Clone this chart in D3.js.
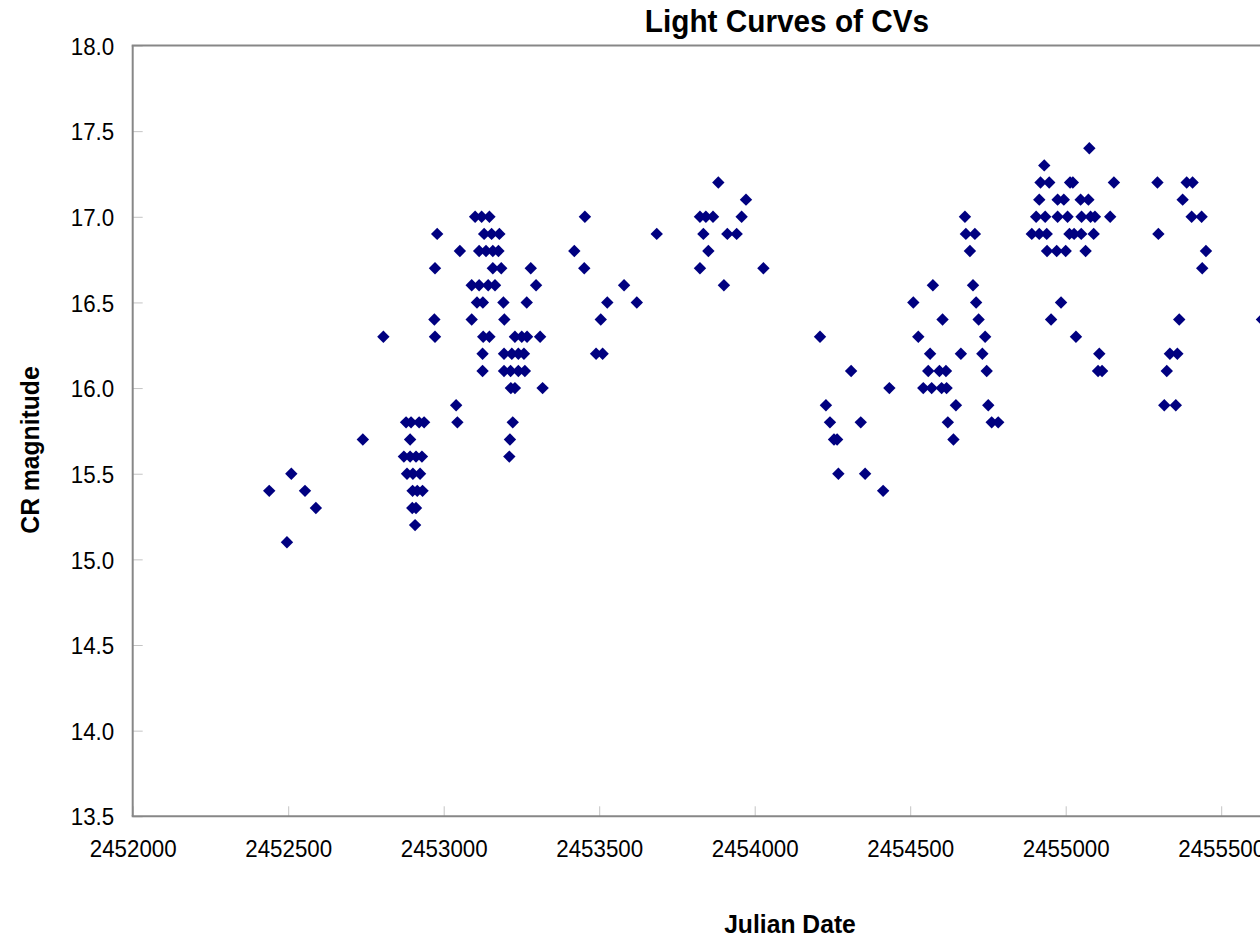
<!DOCTYPE html>
<html>
<head>
<meta charset="utf-8">
<script src="https://cdn.jsdelivr.net/npm/d3@7"></script>
<style>
  html, body { margin: 0; padding: 0; background: #ffffff; }
  svg { display: block; font-family: "Liberation Sans", Arial, Helvetica, sans-serif; }
</style>
</head>
<body>
<svg id="chart" width="1260" height="940"></svg>
<script>
// ---- Data ----
const julianDate = [
  2452439, 2452510, 2452554, 2452589, 2452496, 2452740, 2452806,
  2452879, 2452895, 2452921, 2452937, 2452892,
  2452872, 2452892, 2452911, 2452930,
  2452882, 2452901, 2452924,
  2452900, 2452915, 2452932,
  2452899, 2452911, 2452908,
  2452979, 2452972, 2452970, 2452972, 2453040, 2453044, 2453052,
  2453101, 2453122, 2453147,
  2453130, 2453154, 2453179,
  2453114, 2453136, 2453158, 2453176,
  2453158, 2453185, 2453280,
  2453090, 2453114, 2453143, 2453165, 2453297,
  2453107, 2453126, 2453192, 2453267,
  2453090, 2453195,
  2453127, 2453147, 2453229, 2453251, 2453268, 2453310,
  2453125, 2453194, 2453219, 2453240, 2453258,
  2453125, 2453194, 2453215, 2453240, 2453261,
  2453216, 2453229, 2453318,
  2453222, 2453213, 2453211,
  2453420, 2453454, 2453452, 2453490, 2453511, 2453505, 2453526, 2453580, 2453621, 2453685,
  2453824, 2453843, 2453866, 2453958, 2453883, 2453972, 2453835, 2453912, 2453942, 2453851, 2453824, 2454028, 2453901,
  2454210, 2454229, 2454242, 2454255, 2454265, 2454269, 2454310, 2454341, 2454355, 2454413, 2454433,
  2454510, 2454526, 2454564, 2454558, 2454594, 2454615, 2454542, 2454569, 2454601, 2454617, 2454573, 2454604, 2454621, 2454639, 2454647, 2454663,
  2454676, 2454679, 2454708, 2454692, 2454702, 2454712, 2454720, 2454741, 2454732, 2454746, 2454751, 2454762, 2454783,
  2455076, 2454931, 2454919, 2454947, 2455014, 2455023, 2455155,
  2454915, 2454974, 2454994, 2455048, 2455073,
  2454905, 2454934, 2454974, 2455006, 2455051, 2455080, 2455094, 2455143,
  2454891, 2454915, 2454939, 2455012, 2455027, 2455050, 2455090,
  2454940, 2454971, 2455000, 2455064,
  2454985, 2454953, 2455033, 2455108, 2455104, 2455117,
  2455295, 2455389, 2455408, 2455298, 2455376, 2455405, 2455437, 2455451, 2455439, 2455365, 2455335, 2455359, 2455325, 2455317, 2455354, 2455631
];
const crMagnitude = [
  15.4, 15.5, 15.4, 15.3, 15.1, 15.7, 16.3,
  15.8, 15.8, 15.8, 15.8, 15.7,
  15.6, 15.6, 15.6, 15.6,
  15.5, 15.5, 15.5,
  15.4, 15.4, 15.4,
  15.3, 15.3, 15.2,
  16.9, 16.7, 16.4, 16.3, 15.9, 15.8, 16.8,
  17.0, 17.0, 17.0,
  16.9, 16.9, 16.9,
  16.8, 16.8, 16.8, 16.8,
  16.7, 16.7, 16.7,
  16.6, 16.6, 16.6, 16.6, 16.6,
  16.5, 16.5, 16.5, 16.5,
  16.4, 16.4,
  16.3, 16.3, 16.3, 16.3, 16.3, 16.3,
  16.2, 16.2, 16.2, 16.2, 16.2,
  16.1, 16.1, 16.1, 16.1, 16.1,
  16.0, 16.0, 16.0,
  15.8, 15.7, 15.6,
  16.8, 17.0, 16.7, 16.2, 16.2, 16.4, 16.5, 16.6, 16.5, 16.9,
  17.0, 17.0, 17.0, 17.0, 17.2, 17.1, 16.9, 16.9, 16.9, 16.8, 16.7, 16.7, 16.6,
  16.3, 15.9, 15.8, 15.7, 15.7, 15.5, 16.1, 15.8, 15.5, 15.4, 16.0,
  16.5, 16.3, 16.2, 16.1, 16.1, 16.1, 16.0, 16.0, 16.0, 16.0, 16.6, 16.4, 15.8, 15.7, 15.9, 16.2,
  17.0, 16.9, 16.9, 16.8, 16.6, 16.5, 16.4, 16.3, 16.2, 16.1, 15.9, 15.8, 15.8,
  17.4, 17.3, 17.2, 17.2, 17.2, 17.2, 17.2,
  17.1, 17.1, 17.1, 17.1, 17.1,
  17.0, 17.0, 17.0, 17.0, 17.0, 17.0, 17.0, 17.0,
  16.9, 16.9, 16.9, 16.9, 16.9, 16.9, 16.9,
  16.8, 16.8, 16.8, 16.8,
  16.5, 16.4, 16.3, 16.2, 16.1, 16.1,
  17.2, 17.2, 17.2, 16.9, 17.1, 17.0, 17.0, 16.8, 16.7, 16.4, 16.2, 16.2, 16.1, 15.9, 15.9, 16.4
];
const yTickValues = [13.5, 14.0, 14.5, 15.0, 15.5, 16.0, 16.5, 17.0, 17.5, 18.0];
const xTickValues = [2452000, 2452500, 2453000, 2453500, 2454000, 2454500, 2455000, 2455500];
const chartTitle = "Light Curves of CVs";
const xAxisTitle = "Julian Date";
const yAxisTitle = "CR magnitude";

// ---- Layout ----
const svg = d3.select("#chart");
const plot = { left: 132.7, top: 45.5, bottom: 816.3, right: 1376.7 };

const x = d3.scaleLinear().domain([2452000, 2456000]).range([plot.left, plot.right]);
const y = d3.scaleLinear().domain([13.5, 18.0]).range([plot.bottom, plot.top]);

const sx = 0.93; // horizontal squeeze of the reference's type

// Y axis
const yAxis = svg.append("g")
  .attr("transform", `translate(${plot.left},0)`)
  .call(d3.axisLeft(y).tickValues(yTickValues).tickSize(-10).tickFormat(d3.format(".1f")));
yAxis.select(".domain").remove();
yAxis.selectAll(".tick line").attr("stroke", "#c4c4c4").attr("stroke-width", 1);
yAxis.selectAll(".tick text")
  .attr("x", null).attr("dy", "0.36em")
  .attr("transform", `translate(-18.5,0) scale(${sx},1)`)
  .attr("font-size", 24).attr("fill", "#000");

// X axis
const xAxis = svg.append("g")
  .attr("transform", `translate(0,${plot.bottom})`)
  .call(d3.axisBottom(x).tickValues(xTickValues).tickSize(-10).tickFormat(d3.format("d")));
xAxis.select(".domain").remove();
xAxis.selectAll(".tick line").attr("stroke", "#c4c4c4").attr("stroke-width", 1);
xAxis.selectAll(".tick text")
  .attr("y", null).attr("dy", null)
  .attr("transform", `translate(0,41) scale(${sx},1)`)
  .attr("font-size", 24).attr("fill", "#000");

// Frame (left, bottom, top)
const frame = svg.append("g").attr("stroke", "#878787").attr("stroke-width", 2).attr("fill", "none");
frame.append("line").attr("x1", plot.left).attr("x2", plot.left).attr("y1", plot.top).attr("y2", plot.bottom);
frame.append("line").attr("x1", plot.left - 1).attr("x2", plot.right).attr("y1", plot.bottom).attr("y2", plot.bottom);
frame.append("line").attr("x1", plot.left - 1).attr("x2", plot.right).attr("y1", plot.top).attr("y2", plot.top);

// Points (diamonds)
const points = julianDate.map((jd, i) => ({ jd, mag: crMagnitude[i] }));
const r = 6.2;
svg.append("g")
  .selectAll("path")
  .data(points)
  .join("path")
  .attr("transform", d => `translate(${x(d.jd)},${y(d.mag)})`)
  .attr("d", `M0,${-r}L${r},0L0,${r}L${-r},0Z`)
  .attr("fill", "#000080");

// Titles
svg.append("text")
  .attr("transform", `translate(787,32) scale(0.93,1)`)
  .attr("text-anchor", "middle")
  .attr("font-size", 32).attr("font-weight", "bold")
  .text(chartTitle);

svg.append("text")
  .attr("transform", `translate(790,933) scale(0.95,1)`)
  .attr("text-anchor", "middle")
  .attr("font-size", 26).attr("font-weight", "bold")
  .text(xAxisTitle);

svg.append("text")
  .attr("transform", `translate(39,450) rotate(-90) scale(0.95,1)`)
  .attr("text-anchor", "middle")
  .attr("font-size", 26).attr("font-weight", "bold")
  .text(yAxisTitle);
</script>
</body>
</html>
